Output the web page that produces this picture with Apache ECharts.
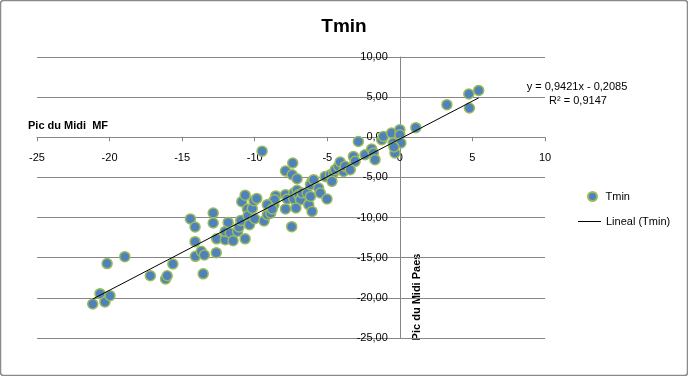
<!DOCTYPE html>
<html>
<head>
<meta charset="utf-8">
<script src="https://cdn.jsdelivr.net/npm/echarts@6/dist/echarts.min.js"></script>
<style>
  html, body { margin: 0; padding: 0; background: #fff; }
  #main { width: 688px; height: 376px; }
</style>
</head>
<body>
<div id="main"></div>
<script>
// Pic du Midi MF (x) vs Pic du Midi Paes (y), Tmin
const picMF = [
  -21.16, -20.66, -20.32, -19.97, -20.17, -18.95, -17.19, -16.14, -16.03, -15.64,
  -14.43, -14.11, -14.11, -14.09, -13.68, -13.47, -13.55, -12.86, -12.86, -12.62,
  -12.65, -12.03, -12.03, -11.83, -11.69, -11.49, -11.18, -11.08, -10.96, -10.66,
  -10.89, -10.66, -10.50, -10.46, -10.36, -10.17, -10.00, -10.05, -9.86, -9.49,
  -9.36, -9.13, -8.97, -8.90, -8.68, -8.55, -8.63, -7.88, -7.38, -7.42,
  -7.08, -7.88, -7.76, -7.88, -7.31, -7.31, -7.08, -6.97, -6.85, -6.73,
  -7.16, -7.45, -6.39, -6.28, -6.05, -6.05, -6.16, -5.94, -6.16, -5.60,
  -5.48, -5.02, -5.14, -4.79, -4.57, -4.68, -4.45, -4.23, -4.11, -3.88,
  -3.54, -3.77, -3.20, -3.08, -3.42, -2.86, -2.40, -1.94, -1.83, -1.71,
  -1.25, -1.14, -0.57, -0.46, -0.34, 0.00, 0.00, 0.07, -0.41, 1.10,
  3.24, 4.75, 4.79, 5.43, -9.13, -8.79
];
const picPaes = [
  -20.76, -19.48, -20.51, -19.73, -15.73, -14.87, -17.24, -17.65, -17.24, -15.78,
  -10.17, -11.17, -13.00, -14.83, -14.21, -14.66, -17.01, -9.43, -10.67, -12.65,
  -14.37, -12.75, -11.72, -10.60, -11.92, -12.88, -11.72, -11.17, -10.35, -12.65,
  -8.02, -7.21, -8.93, -9.76, -10.88, -8.87, -10.14, -7.90, -7.61, -1.73,
  -10.42, -9.64, -8.31, -9.45, -8.43, -7.30, -7.77, -4.20, -3.20, -4.66,
  -5.16, -7.15, -7.68, -8.92, -6.94, -7.68, -6.59, -7.15, -7.77, -6.94,
  -8.80, -11.13, -6.94, -8.39, -9.23, -5.49, -5.90, -5.28, -7.36, -6.31,
  -6.94, -7.68, -4.87, -4.66, -4.45, -5.49, -4.03, -3.62, -3.08, -4.25,
  -3.82, -3.62, -2.38, -3.00, -4.03, -0.51, -2.17, -1.46, -1.96, -2.79,
  -0.30, 0.11, 0.54, -0.71, -1.96, 0.95, 0.32, -0.71, -1.21, 1.20,
  4.06, 5.39, 3.65, 5.84, -8.39, -8.93
];
// linear trendline from the chart label
const slope = 0.9421;
const intercept = -0.2085;
const rSquared = 0.9147;

const xTicks = { min: -25, max: 10, interval: 5 };
const yTicks = { min: -25, max: 10, interval: 5 };

const fmt = (v, d) => v.toFixed(d).replace('.', ',');

const points = picMF.map((x, i) => [x, picPaes[i]]);
const xMin = Math.min(...picMF);
const xMax = Math.max(...picMF);
const trend = [xMin, xMax].map(x => [x, slope * x + intercept]);

const font = 'Liberation Sans, Arial, sans-serif';
const gridColor = '#868686';

// plot box, axes cross at (0, 0) like the Excel chart
const box = { left: 37, right: 143, top: 57, bottom: 38, width: 508, height: 281 };
const yAxisShift = -box.width * (0 - xTicks.min) / (xTicks.max - xTicks.min);
const xAxisShift = -box.height * (0 - yTicks.min) / (yTicks.max - yTicks.min);

const chart = echarts.init(document.getElementById('main'), null, { renderer: 'canvas' });

chart.setOption({
  animation: false,
  backgroundColor: '#fff',
  textStyle: { fontFamily: font },
  title: {
    text: 'Tmin',
    left: 'center',
    top: 12,
    textStyle: { fontSize: 19, fontWeight: 'bold', color: '#000', fontFamily: font }
  },
  grid: { left: box.left, right: box.right, top: box.top, bottom: box.bottom, outerBoundsMode: 'none' },
  legend: [
    {
      data: ['Tmin'],
      orient: 'vertical',
      left: 582,
      top: 186,
      itemWidth: 16,
      itemHeight: 9,
      textStyle: { fontSize: 11, color: '#000', fontFamily: font }
    },
    {
      data: [{ name: 'Lineal (Tmin)', icon: 'rect' }],
      orient: 'vertical',
      left: 573,
      top: 211,
      itemWidth: 23,
      itemHeight: 1,
      textStyle: { fontSize: 11, color: '#000', fontFamily: font }
    }
  ],
  xAxis: {
    type: 'value',
    position: 'bottom',
    offset: xAxisShift,
    min: xTicks.min,
    max: xTicks.max,
    interval: xTicks.interval,
    axisLine: { onZero: false, lineStyle: { color: gridColor, width: 1 } },
    axisTick: { show: true, length: 4, lineStyle: { color: gridColor } },
    axisLabel: { fontSize: 11, color: '#000', margin: 15, fontFamily: font },
    splitLine: { show: false }
  },
  yAxis: {
    type: 'value',
    position: 'left',
    offset: yAxisShift,
    min: yTicks.min,
    max: yTicks.max,
    interval: yTicks.interval,
    axisLine: { onZero: false, lineStyle: { color: gridColor, width: 1 } },
    axisTick: { show: true, length: 4, lineStyle: { color: gridColor } },
    axisLabel: {
      fontSize: 11, color: '#000', margin: 12, fontFamily: font,
      formatter: v => fmt(v, 2)
    },
    splitLine: { show: true, lineStyle: { color: gridColor, width: 1 } }
  },
  series: [
    {
      name: 'Tmin',
      type: 'scatter',
      data: points,
      symbol: 'circle',
      symbolSize: 10,
      itemStyle: { color: '#4f81bd', borderColor: '#9bbb59', borderWidth: 1.5, opacity: 1 }
    },
    {
      name: 'Lineal (Tmin)',
      type: 'line',
      data: trend,
      symbol: 'none',
      lineStyle: { color: '#000', width: 1 },
      itemStyle: { color: '#000' },
      z: 3
    }
  ],
  graphic: [
    {
      type: 'rect',
      shape: { x: 0.5, y: 0.5, width: 687, height: 375, r: 3 },
      style: { fill: 'none', stroke: '#8a8a8a', lineWidth: 1.5 },
      silent: true
    },
    {
      type: 'text',
      left: 28,
      top: 120,
      style: { text: 'Pic du Midi  MF', font: 'bold 11px ' + font, fill: '#000' }
    },
    {
      type: 'text',
      x: 417,
      y: 297,
      rotation: Math.PI / 2,
      style: {
        text: 'Pic du Midi Paes', font: 'bold 11px ' + font, fill: '#000',
        align: 'center', verticalAlign: 'middle'
      }
    },
    {
      type: 'text',
      x: 577,
      y: 87,
      style: {
        text: 'y = ' + fmt(slope, 4) + 'x - ' + fmt(-intercept, 4),
        font: '11px ' + font, fill: '#000', align: 'center', verticalAlign: 'middle'
      }
    },
    {
      type: 'text',
      x: 578,
      y: 101,
      style: {
        text: 'R\u00b2 = ' + fmt(rSquared, 4),
        font: '11px ' + font, fill: '#000', align: 'center', verticalAlign: 'middle'
      }
    }
  ]
});
</script>
</body>
</html>
